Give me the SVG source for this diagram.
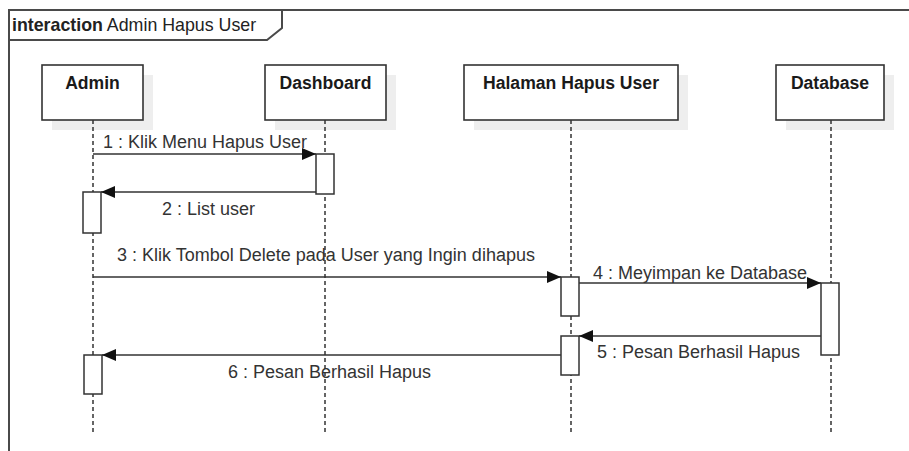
<svg xmlns="http://www.w3.org/2000/svg" width="909" height="451" viewBox="0 0 909 451">
  <style>
    .frame { fill: none; stroke: #4a4a4a; stroke-width: 2; }
    .title { font-family: "Liberation Sans", Arial, sans-serif; font-size: 17.8px; fill: #222; }
    .head { fill: #fff; stroke: #333; stroke-width: 1.6; }
    .shadow { fill: #eeeeee; }
    .hlabel { font-family: "Liberation Sans", Arial, sans-serif; font-size: 17.6px; font-weight: bold; fill: #1a1a1a; text-anchor: middle; }
    .life { stroke: #333; stroke-width: 1.5; stroke-dasharray: 4 3; fill: none; }
    .act { fill: #fff; stroke: #333; stroke-width: 1.5; }
    .msg { stroke: #333; stroke-width: 1.5; fill: none; marker-end: url(#arrow); }
    .mlabel { font-family: "Liberation Sans", Arial, sans-serif; font-size: 18px; fill: #333; }
  </style>
  <defs>
    <marker id="arrow" viewBox="0 0 14 12" refX="14" refY="6" markerWidth="14" markerHeight="12" markerUnits="userSpaceOnUse" orient="auto">
      <path d="M0,0 L14,6 L0,12 Z" fill="#111"/>
    </marker>
  </defs>

  <rect width="909" height="451" fill="#fff"/>

  <!-- interaction frame -->
  <g id="frame">
    <path class="frame" d="M9,451 L9,10 L909,10"/>
    <path class="frame" d="M9,40 L267,40 L282,28 L282,10"/>
    <text class="title" x="12" y="31"><tspan font-weight="bold">interaction</tspan> Admin Hapus User</text>
  </g>

  <!-- lifelines -->
  <g id="admin">
    <rect class="shadow" x="52" y="75" width="101" height="55"/>
    <rect class="head" x="42" y="65" width="101" height="55"/>
    <text class="hlabel" x="92.5" y="89">Admin</text>
    <line class="life" x1="93" y1="120" x2="93" y2="433"/>
  </g>
  <g id="dashboard">
    <rect class="shadow" x="275" y="75" width="121" height="55"/>
    <rect class="head" x="265" y="65" width="121" height="55"/>
    <text class="hlabel" x="325.5" y="89">Dashboard</text>
    <line class="life" x1="325" y1="120" x2="325" y2="433"/>
  </g>
  <g id="halaman-hapus-user">
    <rect class="shadow" x="474" y="75" width="214" height="55"/>
    <rect class="head" x="464" y="65" width="214" height="55"/>
    <text class="hlabel" x="571" y="89">Halaman Hapus User</text>
    <line class="life" x1="571" y1="120" x2="571" y2="433"/>
  </g>
  <g id="database">
    <rect class="shadow" x="786" y="75" width="108" height="55"/>
    <rect class="head" x="776" y="65" width="108" height="55"/>
    <text class="hlabel" x="830" y="89">Database</text>
    <line class="life" x1="831" y1="120" x2="831" y2="433"/>
  </g>

  <!-- activation bars -->
  <g id="activations">
    <rect class="act" x="316" y="154" width="18" height="40"/>
    <rect class="act" x="83" y="192" width="18" height="41"/>
    <rect class="act" x="561" y="277" width="18" height="39"/>
    <rect class="act" x="821" y="283" width="18" height="72"/>
    <rect class="act" x="561" y="336" width="18" height="39"/>
    <rect class="act" x="84" y="355" width="18" height="39"/>
  </g>

  <!-- messages -->
  <g id="connectors">
    <line class="msg" x1="93" y1="154" x2="316" y2="154"/>
    <text class="mlabel" x="103" y="148">1 : Klik Menu Hapus User</text>

    <line class="msg" x1="316" y1="192" x2="101" y2="192"/>
    <text class="mlabel" x="162" y="215">2 : List user</text>

    <line class="msg" x1="93" y1="277" x2="561" y2="277"/>
    <text class="mlabel" x="117" y="261">3 : Klik Tombol Delete pada User yang Ingin dihapus</text>

    <line class="msg" x1="579" y1="283" x2="821" y2="283"/>
    <text class="mlabel" x="593" y="279">4 : Meyimpan ke Database</text>

    <line class="msg" x1="821" y1="336" x2="579" y2="336"/>
    <text class="mlabel" x="597" y="358">5 : Pesan Berhasil Hapus</text>

    <line class="msg" x1="561" y1="355" x2="102" y2="355"/>
    <text class="mlabel" x="228" y="378">6 : Pesan Berhasil Hapus</text>
  </g>
</svg>
